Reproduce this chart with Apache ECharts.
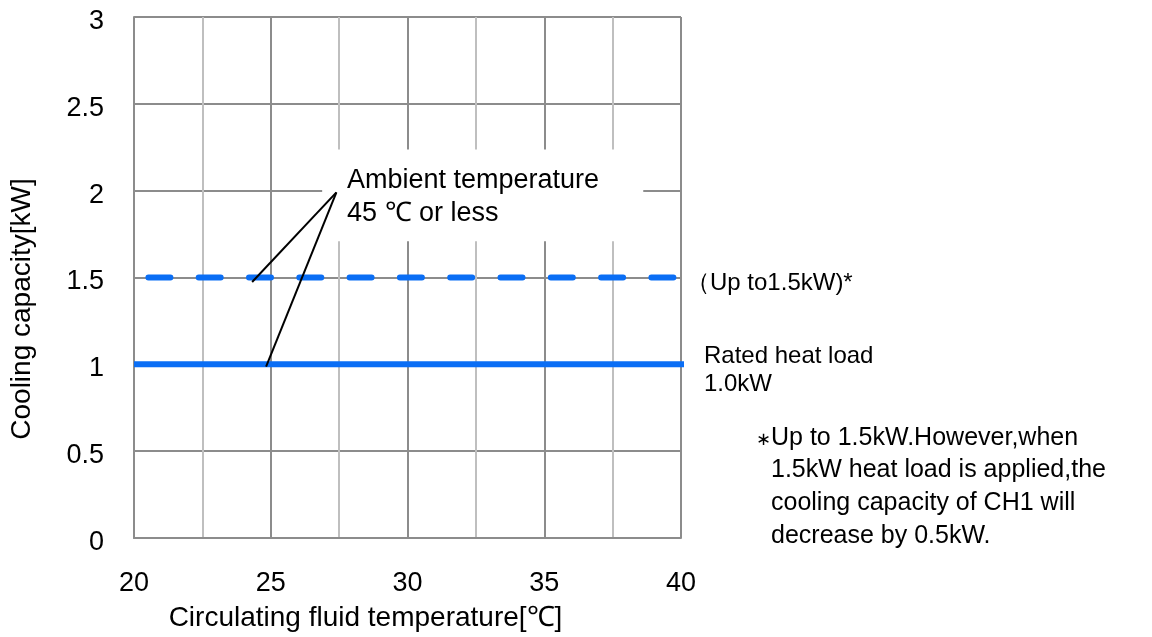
<!DOCTYPE html>
<html>
<head>
<meta charset="utf-8">
<script src="https://cdn.jsdelivr.net/npm/echarts@6/dist/echarts.min.js"></script>
<style>
html,body{margin:0;padding:0;background:#fff;}
#chart{width:1152px;height:637px;}
</style>
</head>
<body>
<div id="chart"></div>
<script>
// ---- data ----
var xTicks = [20, 25, 30, 35, 40];
var yTicks = [0, 0.5, 1, 1.5, 2, 2.5, 3];
var maxCapX = [20, 40];          // "Up to 1.5kW" dashed line
var maxCapY = [1.5, 1.5];
var ratedX = [20, 40.2];         // rated heat load solid line
var ratedY = [1.0, 1.0];
var leaderFrom = [27.4, 1.99];
var leaderTo1 = [24.32, 1.474];
var leaderTo2 = [24.83, 0.987];
var labelBox = [[26.88, 2.237], [38.62, 1.709]];

var FONT = "'Liberation Sans', Arial, sans-serif";
var BLUE = '#0a6ef5';

function zip(a, b) { return a.map(function (v, i) { return [v, b[i]]; }); }
function txt(x, y, s, size) {
  return {type: 'text', x: x, y: y, z: 10, silent: true,
    style: {text: s, font: size + 'px ' + FONT, fill: '#000', verticalAlign: 'middle', align: 'left'}};
}

var chart = echarts.init(document.getElementById('chart'), null, {renderer: 'canvas'});
chart.setOption({
  animation: false,
  backgroundColor: '#ffffff',
  grid: {left: 134, right: 471, top: 17, bottom: 97, containLabel: false},
  xAxis: {
    type: 'value', min: xTicks[0], max: xTicks[xTicks.length - 1], interval: 5,
    name: 'Circulating fluid temperature[℃]',
    nameLocation: 'middle', nameGap: 66,
    nameTextStyle: {fontFamily: FONT, fontSize: 28, color: '#000', padding: [0, 84, 0, 0]},
    axisLine: {show: true, lineStyle: {color: '#8c8c8c', width: 2}},
    axisTick: {show: false},
    axisLabel: {fontFamily: FONT, fontSize: 27, color: '#000', margin: 32},
    splitLine: {show: true, lineStyle: {color: '#8c8c8c', width: 2}},
    minorTick: {show: false, splitNumber: 2},
    minorSplitLine: {show: true, lineStyle: {color: '#bfbfbf', width: 2}}
  },
  yAxis: {
    type: 'value', min: yTicks[0], max: yTicks[yTicks.length - 1], interval: 0.5,
    name: 'Cooling capacity[kW]',
    nameLocation: 'middle', nameGap: 98, nameRotate: 90,
    nameTextStyle: {fontFamily: FONT, fontSize: 28, color: '#000', padding: [0, 63, 0, 0]},
    axisLine: {show: true, lineStyle: {color: '#8c8c8c', width: 2}},
    axisTick: {show: false},
    axisLabel: {fontFamily: FONT, fontSize: 27, color: '#000', margin: 30,
      verticalAlign: 'top', lineHeight: 9},
    splitLine: {show: true, lineStyle: {color: '#8c8c8c', width: 2}}
  },
  series: [
    {
      name: 'box', type: 'line', data: [], z: 1, silent: true,
      markArea: {
        silent: true,
        itemStyle: {color: '#ffffff', opacity: 1},
        data: [[{coord: labelBox[0]}, {coord: labelBox[1]}]]
      }
    },
    {
      name: 'Rated heat load', type: 'line', data: zip(ratedX, ratedY),
      showSymbol: false, clip: false, z: 2,
      lineStyle: {color: BLUE, width: 6, cap: 'butt'}
    },
    {
      name: 'Up to 1.5kW', type: 'line', data: zip(maxCapX, maxCapY),
      showSymbol: false, clip: false, z: 2,
      lineStyle: {color: BLUE, width: 6, type: [22, 28.3], dashOffset: 35.9, cap: 'round'}
    },
    {
      name: 'leaders', type: 'line', data: [], z: 3, silent: true,
      markLine: {
        silent: true, symbol: 'none', animation: false,
        label: {show: false},
        lineStyle: {color: '#000', width: 2, type: 'solid'},
        data: [
          [{coord: leaderFrom}, {coord: leaderTo1}],
          [{coord: leaderFrom}, {coord: leaderTo2}]
        ]
      }
    }
  ],
  graphic: [
    txt(347, 181, 'Ambient temperature', 27),
    txt(347, 214, '45 ℃ or less', 27),
    txt(686, 283, '（Up to1.5kW)*', 24),
    txt(704, 356, 'Rated heat load', 24),
    txt(704, 384, '1.0kW', 24),
    txt(756, 440, '∗', 18),
    txt(771, 438, 'Up to 1.5kW.However,when', 25),
    txt(771, 470, '1.5kW heat load is applied,the', 25),
    txt(771, 503, 'cooling capacity of CH1 will', 25),
    txt(771, 536, 'decrease by 0.5kW.', 25)
  ]
});
</script>
</body>
</html>
